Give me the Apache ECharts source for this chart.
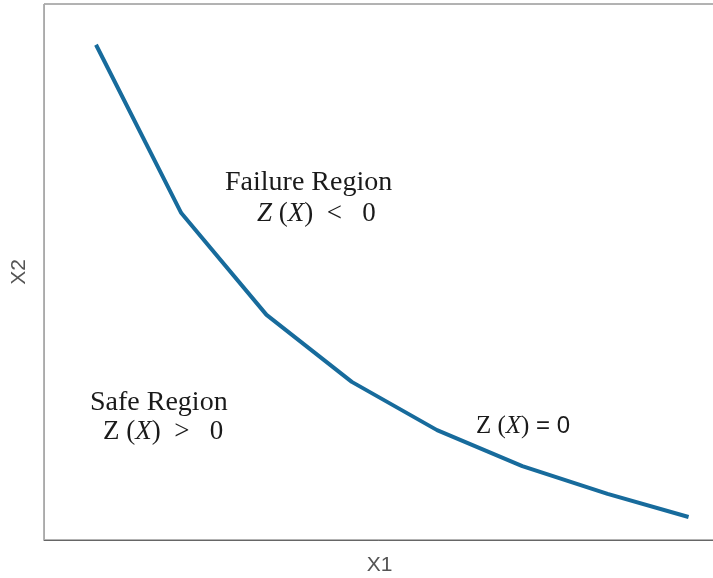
<!DOCTYPE html>
<html><head><meta charset="utf-8">
<script src="https://cdn.jsdelivr.net/npm/echarts@6/dist/echarts.min.js"></script>
<style>html,body{margin:0;padding:0;background:#fff}#c{width:713px;height:578px}</style>
</head><body><div id="c"></div>
<script>
const x1Values = [1, 2, 3, 4, 5, 6, 7, 7.95];
const x2Values = [9.24, 6.10, 4.20, 2.95, 2.05, 1.38, 0.86, 0.43];
const xAxisName = 'X1';
const yAxisName = 'X2';

const chart = echarts.init(document.getElementById('c'));
const serif = '"Liberation Serif","DejaVu Serif",serif';
const sans = '"Liberation Sans",Arial,sans-serif';
const rich = {
  i: {fontFamily: serif, fontStyle: 'italic', fontSize: 27, fill: '#1a1a1a'},
  n: {fontFamily: serif, fontSize: 27, fill: '#1a1a1a'},
  s: {fontFamily: sans, fontSize: 24, fill: '#1a1a1a'},
  i2: {fontFamily: serif, fontStyle: 'italic', fontSize: 25, fill: '#1a1a1a'},
  n2: {fontFamily: serif, fontSize: 25, fill: '#1a1a1a'}
};
chart.setOption({
  animation: false,
  grid: {left: 44, top: 4, right: -2, bottom: 38, outerBoundsMode: 'none', containLabel: false,
    show: true, borderColor: '#666', borderWidth: 1},
  xAxis: {type: 'value', min: 0.39, max: 8.26, name: xAxisName, nameLocation: 'middle', nameGap: 15,
    nameTextStyle: {fontFamily: sans, fontSize: 21, color: '#555'},
    axisLine: {show: true, lineStyle: {color: '#666'}}, axisTick: {show: false}, axisLabel: {show: false}, splitLine: {show: false}},
  yAxis: {type: 'value', min: 0, max: 10, name: yAxisName, nameLocation: 'middle', nameGap: 14,
    nameTextStyle: {fontFamily: sans, fontSize: 21, color: '#555'},
    axisLine: {show: true, lineStyle: {color: '#aaa'}}, axisTick: {show: false}, axisLabel: {show: false}, splitLine: {show: false}},
  series: [{type: 'line', data: x1Values.map((v, i) => [v, x2Values[i]]), symbol: 'none',
    lineStyle: {color: '#176b9c', width: 4}}],
  graphic: [
    {type: 'text', left: 225, top: 169, style: {text: 'Failure Region', font: '28px "Liberation Serif",serif', fill: '#1a1a1a'}},
    {type: 'text', left: 257, top: 200, style: {text: '{i|Z}{n| (}{i|X}{n|)  <   0}', rich: rich}},
    {type: 'text', left: 90, top: 389, style: {text: 'Safe Region', font: '28px "Liberation Serif",serif', fill: '#1a1a1a'}},
    {type: 'text', left: 103, top: 418, style: {text: '{n|Z (}{i|X}{n|)  >   0}', rich: rich}},
    {type: 'text', left: 476, top: 414, style: {text: '{n2|Z (}{i2|X}{n2|)}{s| = 0}', rich: rich}}
  ]
});
</script></body></html>
